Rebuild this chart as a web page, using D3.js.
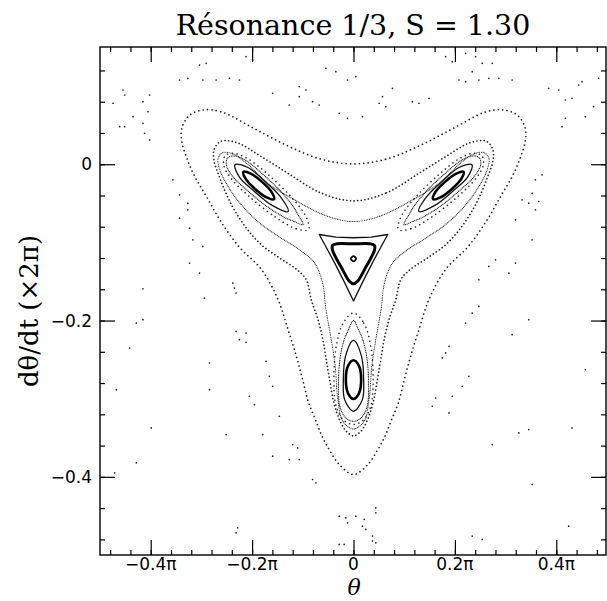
<!DOCTYPE html>
<html><head><meta charset="utf-8">
<script src="https://cdn.jsdelivr.net/npm/d3@7/dist/d3.min.js"></script>
<style>body{margin:0;background:#fff}svg{display:block}</style>
</head><body>
<script>
const chartTitle = "Résonance 1/3, S = 1.30";
const xLabel = "θ";
const yLabel = "dθ/dt (×2π)";
const xTicks = [-0.4, -0.2, 0, 0.2, 0.4];
const xTickLabels = ["−0.4π", "−0.2π", "0", "0.2π", "0.4π"];
const yTicks = [0, -0.2, -0.4];
const yTickLabels = ["0", "−0.2", "−0.4"];

// invariant curves, [theta/pi, dtheta/dt]
const orbitA = [[0,0.0004],[0.0636,0.0064],[0.1292,0.0234],[0.1948,0.0452],[0.2604,0.0669],[0.2965,0.0694],[0.3228,0.0630],[0.3378,0.0481],[0.3392,0.0311],[0.3287,0.0077],[0.3129,-0.0158],[0.2900,-0.0413],[0.2637,-0.0711],[0.2263,-0.1052],[0.1817,-0.1346],[0.1489,-0.1730],[0.1292,-0.2113],[0.1128,-0.2454],[0.1004,-0.2752],[0.0886,-0.3050],[0.0754,-0.3263],[0.0623,-0.3476],[0.0472,-0.3659],[0.0282,-0.3842],[0,-0.3970],[-0.0282,-0.3842],[-0.0472,-0.3659],[-0.0623,-0.3476],[-0.0754,-0.3263],[-0.0886,-0.3050],[-0.1004,-0.2752],[-0.1128,-0.2454],[-0.1292,-0.2113],[-0.1489,-0.1730],[-0.1817,-0.1346],[-0.2263,-0.1052],[-0.2637,-0.0711],[-0.2900,-0.0413],[-0.3129,-0.0158],[-0.3287,0.0077],[-0.3392,0.0311],[-0.3378,0.0481],[-0.3228,0.0630],[-0.2965,0.0694],[-0.2604,0.0669],[-0.1948,0.0452],[-0.1292,0.0234],[-0.0636,0.0064]];
const orbitB = [[0,-0.0469],[0.0649,-0.0366],[0.1305,-0.0111],[0.1830,0.0102],[0.2289,0.0273],[0.2617,0.0294],[0.2749,0.0187],[0.2749,0.0038],[0.2650,-0.0153],[0.2519,-0.0366],[0.2355,-0.0579],[0.2112,-0.0818],[0.1817,-0.1031],[0.1456,-0.1201],[0.1128,-0.1342],[0.0932,-0.1478],[0.0833,-0.1734],[0.0702,-0.1985],[0.0604,-0.2245],[0.0538,-0.2501],[0.0472,-0.2752],[0.0387,-0.3050],[0.0262,-0.3289],[0.0144,-0.3417],[0,-0.3476],[-0.0144,-0.3417],[-0.0262,-0.3289],[-0.0387,-0.3050],[-0.0472,-0.2752],[-0.0538,-0.2501],[-0.0604,-0.2245],[-0.0702,-0.1985],[-0.0833,-0.1734],[-0.0932,-0.1478],[-0.1128,-0.1342],[-0.1456,-0.1201],[-0.1817,-0.1031],[-0.2112,-0.0818],[-0.2355,-0.0579],[-0.2519,-0.0366],[-0.2650,-0.0153],[-0.2749,0.0038],[-0.2749,0.0187],[-0.2617,0.0294],[-0.2289,0.0273],[-0.1830,0.0102],[-0.1305,-0.0111],[-0.0649,-0.0366]];
const orbitC = [[0,-0.0733],[0.0518,-0.0665],[0.1174,-0.0452],[0.1699,-0.0239],[0.2093,0.0004],[0.2375,0.0132],[0.2572,0.0149],[0.2670,0.0077],[0.2637,-0.0072],[0.2473,-0.0285],[0.2211,-0.0520],[0.1850,-0.0754],[0.1456,-0.0933],[0.1063,-0.1095],[0.0768,-0.1265],[0.0610,-0.1521],[0.0544,-0.1857],[0.0440,-0.2241],[0.0361,-0.2582],[0.0308,-0.3007],[0.0210,-0.3289],[0,-0.3387],[-0.0210,-0.3289],[-0.0308,-0.3007],[-0.0361,-0.2582],[-0.0440,-0.2241],[-0.0544,-0.1857],[-0.0610,-0.1521],[-0.0768,-0.1265],[-0.1063,-0.1095],[-0.1456,-0.0933],[-0.1850,-0.0754],[-0.2211,-0.0520],[-0.2473,-0.0285],[-0.2637,-0.0072],[-0.2670,0.0077],[-0.2572,0.0149],[-0.2375,0.0132],[-0.2093,0.0004],[-0.1699,-0.0239],[-0.1174,-0.0452],[-0.0518,-0.0665]];

// central island
const centreOrbit = [[0,-0.1176],[0.0052,-0.1210],[0,-0.1244],[-0.0052,-0.1210]];
const triangleThick = [[0,-0.1018],[0.0322,-0.1018],[0.0413,-0.1039],[0.0413,-0.1103],[0.0243,-0.1316],[0.0079,-0.1499],[0,-0.1529],[-0.0079,-0.1499],[-0.0243,-0.1316],[-0.0413,-0.1103],[-0.0413,-0.1039],[-0.0322,-0.1018]];
const triangleThin = [[-0.0676,-0.0899],[-0.0348,-0.0933],[0,-0.0941],[0.0348,-0.0933],[0.0676,-0.0899],[0.0565,-0.1031],[0.0370,-0.1265],[0.0170,-0.1521],[0,-0.1751],[-0.0170,-0.1521],[-0.0370,-0.1265],[-0.0565,-0.1031]];

// island chain (three islands)
const ellipseBottom = [[0,-0.2509],[0.0107,-0.2581],[0.0151,-0.2756],[0.0107,-0.2931],[0,-0.3003],[-0.0107,-0.2931],[-0.0151,-0.2756],[-0.0107,-0.2581]];
const ellipseLeft = [[-0.1568,-0.0447],[-0.1703,-0.0428],[-0.1936,-0.0319],[-0.2129,-0.0184],[-0.2172,-0.0098],[-0.2037,-0.0117],[-0.1804,-0.0226],[-0.1611,-0.0361]];
const ellipseRight = [[0.1568,-0.0447],[0.1703,-0.0428],[0.1936,-0.0319],[0.2129,-0.0184],[0.2172,-0.0098],[0.2037,-0.0117],[0.1804,-0.0226],[0.1611,-0.0361]];
const loop2Bottom = [[0,-0.2253],[0.0158,-0.2458],[0.0200,-0.2756],[0.0175,-0.3012],[0,-0.3161],[-0.0175,-0.3012],[-0.0200,-0.2756],[-0.0158,-0.2458]];
const loop2Left = [[-0.1289,-0.0604],[-0.1603,-0.0527],[-0.1964,-0.0342],[-0.2250,-0.0166],[-0.2337,-0.0006],[-0.2080,-0.0042],[-0.1775,-0.0203],[-0.1447,-0.0412]];
const loop2Right = [[0.1289,-0.0604],[0.1603,-0.0527],[0.1964,-0.0342],[0.2250,-0.0166],[0.2337,-0.0006],[0.2080,-0.0042],[0.1775,-0.0203],[0.1447,-0.0412]];
const loop3Bottom = [[0,-0.1998],[0.0098,-0.2117],[0.0184,-0.2245],[0.0269,-0.2501],[0.0295,-0.2799],[0.0269,-0.3097],[0.0151,-0.3246],[0,-0.3289],[-0.0151,-0.3246],[-0.0269,-0.3097],[-0.0295,-0.2799],[-0.0269,-0.2501],[-0.0184,-0.2245],[-0.0098,-0.2117]];
const loop3Left = [[-0.0994,-0.0773],[-0.1180,-0.0730],[-0.1370,-0.0677],[-0.1708,-0.0540],[-0.2065,-0.0352],[-0.2396,-0.0146],[-0.2510,-0.0004],[-0.2485,0.0079],[-0.2360,0.0106],[-0.2130,0.0051],[-0.1773,-0.0137],[-0.1441,-0.0343],[-0.1188,-0.0543],[-0.1083,-0.0659]];
const loop3Right = [[0.0994,-0.0773],[0.1180,-0.0730],[0.1370,-0.0677],[0.1708,-0.0540],[0.2065,-0.0352],[0.2396,-0.0146],[0.2510,-0.0004],[0.2485,0.0079],[0.2360,0.0106],[0.2130,0.0051],[0.1773,-0.0137],[0.1441,-0.0343],[0.1188,-0.0543],[0.1083,-0.0659]];
// chaotic layers hugging the islands
const ringBottom = [[0,-0.1904],[0.0203,-0.2032],[0.0341,-0.2330],[0.0387,-0.2756],[0.0341,-0.3097],[0.0203,-0.3267],[0,-0.3331],[-0.0203,-0.3267],[-0.0341,-0.3097],[-0.0387,-0.2756],[-0.0341,-0.2330],[-0.0203,-0.2032]];
const ringLeft = [[-0.0886,-0.0835],[-0.1134,-0.0825],[-0.1543,-0.0676],[-0.2058,-0.0412],[-0.2429,-0.0170],[-0.2560,-0.0009],[-0.2534,0.0107],[-0.2360,0.0139],[-0.2098,0.0075],[-0.1681,-0.0134],[-0.1212,-0.0432],[-0.0933,-0.0677]];
const ringRight = [[0.0886,-0.0835],[0.1134,-0.0825],[0.1543,-0.0676],[0.2058,-0.0412],[0.2429,-0.0170],[0.2560,-0.0009],[0.2534,0.0107],[0.2360,0.0139],[0.2098,0.0075],[0.1681,-0.0134],[0.1212,-0.0432],[0.0933,-0.0677]];

// scattered points of the chaotic sea
const chaos = [[-0.212,0.1376],[-0.1988,0.1333],[-0.3037,0.1269],[-0.2906,0.1291],[-0.3431,0.1078],[-0.3267,0.1099],[-0.2972,0.1078],[-0.2709,0.1078],[-0.2447,0.1099],[-0.2250,0.1078],[-0.1594,0.0907],[-0.1069,0.0993],[-0.0938,0.0950],[-0.1069,0.0865],[-0.0807,0.0801],[-0.1266,0.0758],[-0.0676,0.0758],[-0.0544,0.1227],[-0.0348,0.1184],[0.0046,0.1120],[-0.0118,0.1078],[0.0571,0.0865],[0.0768,0.0971],[0.0505,0.0780],[0.0636,0.0737],[0.1161,0.0801],[0.1292,0.0780],[0.1489,0.0843],[0.1817,0.1376],[0.1948,0.1312],[0.2211,0.1419],[0.2408,0.1376],[0.2539,0.1291],[0.2736,0.1291],[0.2342,0.1184],[0.2080,0.1078],[0.2211,0.1056],[0.2473,0.1078],[0.2670,0.1099],[0.2867,0.1099],[0.3129,0.1078],[0.3851,0.0971],[0.4048,0.0950],[0.4179,0.0822],[0.4310,0.0843],[0.4441,0.1014],[0.4507,0.1056],[0.4835,0.1099],[0.4736,0.0737],[0.4572,0.0609],[0.4179,0.0588],[0.4113,0.0481],[-0.0282,0.0652],[-0.0118,0.0588],[0.0177,0.0609],[-0.4743,0.0780],[-0.4612,0.0481],[-0.4513,0.0481],[-0.4546,0.0950],[-0.4513,0.0886],[-0.4349,0.0609],[-0.4152,0.0801],[-0.4152,0.0524],[-0.4054,0.0673],[-0.4021,0.0886],[-0.4021,0.0311],[-0.4120,0.0396],[0.3720,-0.0136],[0.3588,-0.0200],[0.3523,-0.0371],[0.3654,-0.0477],[0.3457,-0.0498],[0.3588,-0.0584],[0.3326,-0.0456],[0.3195,-0.0711],[0.3523,-0.0967],[0.3195,-0.1265],[0.3064,-0.1393],[0.2670,-0.1308],[0.2801,-0.1223],[0.2473,-0.1478],[0.2342,-0.1904],[0.2211,-0.2032],[0.2473,-0.1819],[0.1883,-0.2330],[0.1817,-0.2415],[0.1752,-0.2479],[0.1555,-0.3097],[0.1620,-0.2991],[0.2145,-0.2841],[0.2276,-0.2714],[0.1948,-0.2969],[0.1883,-0.3182],[0.3457,-0.1989],[0.3129,-0.2181],[0.4572,-0.2628],[0.4310,-0.3374],[0.3260,-0.3438],[0.3457,-0.3395],[0.2736,-0.3587],[0.3523,-0.4098],[0.4244,-0.4631],[-0.3562,-0.0200],[-0.3431,-0.0392],[-0.3267,-0.0498],[-0.3267,-0.0584],[-0.3431,-0.0690],[-0.3234,-0.0818],[-0.3168,-0.0967],[-0.2972,-0.1052],[-0.3234,-0.1265],[-0.3037,-0.1393],[-0.4152,-0.1593],[-0.2381,-0.1521],[-0.2348,-0.1585],[-0.2316,-0.1649],[-0.2939,-0.1713],[-0.4284,-0.2032],[-0.4152,-0.1989],[-0.2316,-0.2139],[-0.2119,-0.2160],[-0.2250,-0.2245],[-0.2119,-0.2279],[-0.4415,-0.2352],[-0.2840,-0.2543],[-0.1725,-0.2522],[-0.1660,-0.2714],[-0.1594,-0.2841],[-0.4677,-0.2884],[-0.2840,-0.2884],[-0.2053,-0.2969],[-0.1955,-0.3076],[-0.1463,-0.3225],[-0.3989,-0.3374],[-0.2512,-0.3459],[-0.1791,-0.3459],[-0.1200,-0.3587],[-0.1102,-0.3630],[-0.1594,-0.3736],[-0.1266,-0.3779],[-0.1069,-0.3779],[-0.0807,-0.4034],[-0.0741,-0.4077],[-0.4284,-0.3821],[-0.4710,-0.3949],[-0.0282,-0.4503],[-0.0151,-0.4524],[0.0046,-0.4503],[0.0210,-0.4545],[0.0440,-0.4460],[0.0440,-0.4396],[-0.0118,-0.4588],[0.0177,-0.4631],[0.0243,-0.4673],[-0.2283,-0.4652],[-0.2316,-0.4716],[0.0374,-0.4758],[0.0374,-0.4822],[-0.0282,-0.4865],[-0.0184,-0.4865],[0.0440,-0.4844],[0.2342,-0.4758],[0.2539,-0.4801]];

const W = 607, H = 601;
const svg = d3.select("body").append("svg").attr("width", W).attr("height", H);
const x = d3.scaleLinear().domain([-0.5, 0.5]).range([100, 607]);
const y = d3.scaleLinear().domain([-0.5, 0.15]).range([555, 47]);

svg.append("clipPath").attr("id","clip").append("rect").attr("x",100).attr("y",47).attr("width",506).attr("height",508);
const g = svg.append("g").attr("clip-path","url(#clip)");

const line = d3.line().x(d => x(d[0])).y(d => y(d[1])).curve(d3.curveCatmullRomClosed.alpha(0.5));
const polyLine = d3.line().x(d => x(d[0])).y(d => y(d[1])).curve(d3.curveLinearClosed);

function orbit(data, style, gen) {
  g.append("path").datum(data).attr("d", gen || line)
    .attr("fill", "none").attr("stroke", style.color || "#111")
    .attr("stroke-width", style.w)
    .attr("stroke-linecap", "round").attr("stroke-linejoin", "round")
    .attr("stroke-dasharray", style.dash || null);
}
const dotted = (gap, w) => ({w: w || 1.7, dash: "0.01 " + gap, color: "#222"});

orbit(orbitA, dotted(4.4));
orbit(orbitB, dotted(3.6));
[ringBottom, ringLeft, ringRight].forEach(o => orbit(o, dotted(4.8, 1.6)));
orbit(orbitC, {w: 1.1, dash: "0.01 1.7", color: "#111"});
[loop3Bottom, loop3Left, loop3Right].forEach(o => orbit(o, {w: 1.2, dash: "0.01 1.7", color: "#111"}));
[loop2Bottom, loop2Left, loop2Right].forEach(o => orbit(o, {w: 1.3, color: "#111"}));
[ellipseBottom, ellipseLeft, ellipseRight].forEach(o => orbit(o, {w: 2.6, color: "#000"}));
orbit(triangleThin, {w: 1.3, color: "#111"}, polyLine);
orbit(triangleThick, {w: 3, color: "#000"});
orbit(centreOrbit, {w: 1.8, color: "#000"});

g.selectAll("circle.chaos").data(chaos).join("circle").attr("class","chaos")
  .attr("cx", d => x(d[0])).attr("cy", d => y(d[1])).attr("r", 0.85).attr("fill", "#222");

// axes (ticks point inward on all four sides)
const xMinor = d3.range(-12, 13).map(i => i * 0.04);
const yMinor = d3.range(-12, 4).map(i => i * 0.04);
const axStyle = sel => { sel.select(".domain").remove(); sel.selectAll("line").attr("stroke","#000").attr("stroke-width",1.2); sel.selectAll("text").remove(); };
svg.append("g").attr("transform","translate(0,555)").call(d3.axisBottom(x).tickValues(xMinor).tickSize(-5)).call(axStyle);
svg.append("g").attr("transform","translate(0,555)").call(d3.axisBottom(x).tickValues(xTicks).tickSize(-15)).call(axStyle);
svg.append("g").attr("transform","translate(0,47)").call(d3.axisTop(x).tickValues(xMinor).tickSize(-5)).call(axStyle);
svg.append("g").attr("transform","translate(0,47)").call(d3.axisTop(x).tickValues(xTicks).tickSize(-15)).call(axStyle);
svg.append("g").attr("transform","translate(100,0)").call(d3.axisLeft(y).tickValues(yMinor).tickSize(-5)).call(axStyle);
svg.append("g").attr("transform","translate(100,0)").call(d3.axisLeft(y).tickValues(yTicks).tickSize(-15)).call(axStyle);
svg.append("g").attr("transform","translate(606,0)").call(d3.axisRight(y).tickValues(yMinor).tickSize(-5)).call(axStyle);
svg.append("g").attr("transform","translate(606,0)").call(d3.axisRight(y).tickValues(yTicks).tickSize(-15)).call(axStyle);
svg.append("rect").attr("x",100).attr("y",47).attr("width",506).attr("height",508).attr("fill","none").attr("stroke","#000").attr("stroke-width",1.4);

const tickFont = "'DejaVu Sans', sans-serif";
svg.append("g").selectAll("text").data(xTicks).join("text")
  .attr("x", d => x(d)).attr("y", 570).attr("text-anchor","middle")
  .attr("font-family", tickFont).attr("font-size", 17).text((d,i) => xTickLabels[i]);
svg.append("g").selectAll("text").data(yTicks).join("text")
  .attr("x", 92).attr("y", d => y(d) + 6).attr("text-anchor","end")
  .attr("font-family", tickFont).attr("font-size", 17).text((d,i) => yTickLabels[i]);

svg.append("text").attr("x", 353).attr("y", 35).attr("text-anchor","middle")
  .attr("font-family","'DejaVu Serif', serif").attr("font-size", 28.5).text(chartTitle);
svg.append("text").attr("x", 354).attr("y", 595).attr("text-anchor","middle")
  .attr("font-family","'DejaVu Serif', serif").attr("font-style","italic").attr("font-size", 22).text(xLabel);
svg.append("text").attr("transform","translate(38,311) rotate(-90)").attr("text-anchor","middle")
  .attr("font-family","'DejaVu Serif', serif").attr("font-size", 26).text(yLabel);
</script>
</body></html>
